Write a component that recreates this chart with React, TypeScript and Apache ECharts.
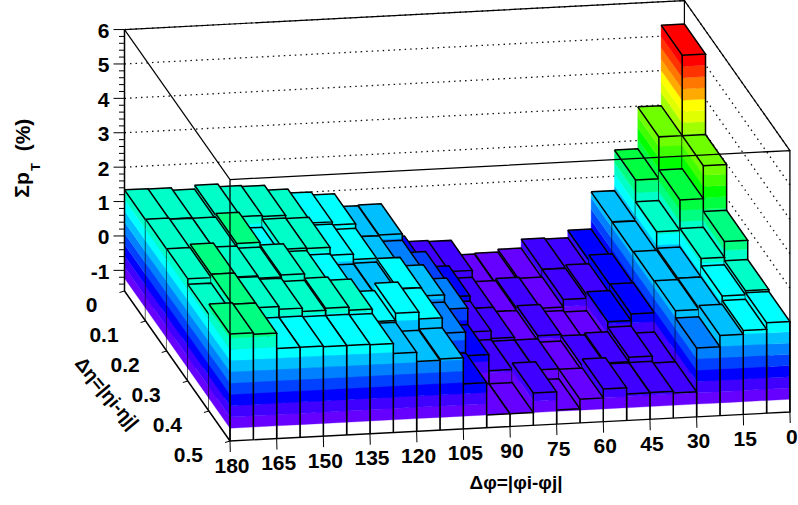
import React, { useEffect, useRef } from "react";
import * as echarts from "echarts";

// Cell values: rows run from eta 0-0.1 (back) to 0.4-0.5 (front), columns from phi 180 down to 0 in 7.5 degree bins.
const row0 = [1.34, 1.33, 1.26, 1.37, 1.29, 1.26, 1.12, 1.0, 0.91, 0.53, 0.55, -0.42, -0.59, -0.62, -1.05, -1.03, -0.95, -0.69, -0.72, -0.5, 0.58, 1.76, 2.98, 5.32];
const row1 = [1.36, 1.32, 1.32, 1.42, 0.95, 1.18, 1.17, 0.94, 0.78, 0.53, 0.36, 0.0, -0.45, -0.82, -0.95, -0.89, -0.92, -0.7, -0.6, -0.35, 0.57, 1.13, 2.02, 2.98];
const row2 = [1.37, 1.47, 1.35, 1.28, 1.34, 1.11, 0.98, 0.65, 0.67, 0.77, 0.52, 0.1, -0.6, -0.82, -0.95, -0.81, -1.02, -1.06, -0.51, -0.32, 0.59, 0.65, 1.19, 1.65];
const row3 = [1.21, 1.47, 1.33, 1.25, 1.15, 1.21, 1.12, 0.75, 0.96, 0.76, 0.31, -0.38, -0.85, -0.9, -0.9, -1.0, -0.85, -0.8, -0.67, -0.88, 0.61, 0.65, 0.97, 1.09];
const row4 = [1.51, 1.47, 1.02, 1.02, 1.0, 1.0, 0.99, 0.7, 0.43, 0.47, -0.29, -1.23, -1.23, -0.66, -1.19, -0.91, -0.65, -0.83, -0.82, -0.87, 0.4, 0.73, 0.84, 1.03];
const rows = [row0, row1, row2, row3, row4];

const zTicks = [-1, 0, 1, 2, 3, 4, 5, 6];
const phiLabels = ["180", "165", "150", "135", "120", "105", "90", "75", "60", "45", "30", "15", "0"];
const etaLabels = ["0", "0.1", "0.2", "0.3", "0.4", "0.5"];
const palette = ["#6600ff", "#4000ff", "#0000ff", "#0040ff", "#0080ff", "#00bfff", "#00ffff", "#00ffc8", "#00ff80", "#00ff40", "#00ff00", "#40ff00", "#70ff00", "#a0ff00", "#e0ff00", "#ffff00", "#ffaa00", "#ff7700", "#ff3300", "#ff0000"];

const Z_FLOOR = -1.6;
const Z_TOP = 6;
const Z_MIN = -1.23;
const Z_MAX = 5.32;
const BAND = (Z_MAX - Z_MIN) / palette.length;
const NC = 24;
const NR = 5;

// oblique projection expressed in axis units
const PX_C = 23.33, PX_R = 21.1, PY_R = 30, PY_C = 1.208, PY_Z = 34.4, X0 = 124.5, Y0 = 291;
const KX = PX_R / PX_C;
const KC = PY_C / PY_Z;
const KR = PY_R / PY_Z;
const project = (api: any) => (c: number, r: number, z: number) =>
  api.coord([c + KX * r, z + KC * c - KR * r]);

const FAMILY = '"Liberation Sans", Arial, sans-serif';
const FONT = `bold 21px ${FAMILY}`;

const poly = (points: number[][], fill: string, z2 = 0) => ({
  type: "polygon", silent: true, z2, shape: { points }, style: { fill, stroke: fill, lineWidth: 0.3 },
});
const line = (points: number[][], w = 1.5, dash?: number[], color = "#000") => ({
  type: "polyline", silent: true, shape: { points },
  style: { fill: "none", stroke: color, lineWidth: w, lineDash: dash },
});
const label = (text: string, x: number, y: number, align: string, font = FONT, rotation = 0) => ({
  type: "text", silent: true, x, y, rotation,
  style: { text, font, fill: "#000", align, verticalAlign: "middle", textAlign: align, textVerticalAlign: "middle" },
});

function renderBar(_: any, api: any) {
  const P = project(api);
  const c = api.value(0), r = api.value(1), v = api.value(2);
  const kids: any[] = [];
  const top = Math.max(v, Z_MIN);
  const face = (lo: number, hi: number, fill: string) => {
    kids.push(poly([P(c, r + 1, lo), P(c + 1, r + 1, lo), P(c + 1, r + 1, hi), P(c, r + 1, hi)], fill));
    kids.push(poly([P(c, r, lo), P(c, r + 1, lo), P(c, r + 1, hi), P(c, r, hi)], fill));
  };
  face(Z_FLOOR, Z_MIN, "#fff");
  for (let b = 0; b < palette.length; b++) {
    const lo = Z_MIN + b * BAND;
    if (lo >= top) break;
    face(lo, Math.min(lo + BAND, top), palette[b]);
  }
  const idx = Math.min(palette.length - 1, Math.max(0, Math.floor((top - Z_MIN) / BAND)));
  kids.push(poly([P(c, r, top), P(c + 1, r, top), P(c + 1, r + 1, top), P(c, r + 1, top)], palette[idx]));
  kids.push(line([P(c, r, top), P(c + 1, r, top), P(c + 1, r + 1, top), P(c, r + 1, top), P(c, r, top)]));
  kids.push(line([P(c, r + 1, top), P(c, r + 1, Z_FLOOR)]));
  kids.push(line([P(c + 1, r + 1, top), P(c + 1, r + 1, Z_FLOOR)]));
  return { type: "group", children: kids };
}

function renderWalls(_: any, api: any) {
  const P = project(api);
  const kids: any[] = [];
  for (const z of zTicks) {
    if (z < 1) continue;
    kids.push(line([P(0, 0, z), P(NC, 0, z), P(NC, NR, z)], 1.3, [1.5, 4], "#111"));
  }
  kids.push(line([P(0, 0, Z_TOP), P(NC, 0, Z_TOP), P(NC, 0, Z_FLOOR)], 1.2));
  kids.push(line([P(NC, 0, Z_TOP), P(NC, NR, Z_TOP)], 1.2));
  kids.push(line([P(0, 0, Z_TOP), P(0, NR, Z_TOP)], 1.2));
  return { type: "group", children: kids };
}

function renderFrame(_: any, api: any) {
  const P = project(api);
  const kids: any[] = [];
  kids.push(line([P(0, NR, Z_TOP), P(NC, NR, Z_TOP), P(NC, NR, Z_FLOOR), P(0, NR, Z_FLOOR), P(0, NR, Z_TOP)], 1.3));
  kids.push(line([P(0, 0, Z_TOP), P(0, 0, Z_FLOOR), P(0, NR, Z_FLOOR)], 1.5));
  for (let i = 0; i <= 38; i++) {
    const z = Z_TOP - i * 0.2;
    if (z < Z_FLOOR) break;
    const p = P(0, 0, z);
    const major = i % 5 === 0;
    kids.push(line([p, [p[0] - (major ? 11 : 5.5), p[1]]], 1));
  }
  for (const z of zTicks) {
    const p = P(0, 0, z);
    kids.push(label(String(z), p[0] - 15, p[1] + 1, "right"));
  }
  phiLabels.forEach((t, i) => {
    const p = P(i * 2, NR, Z_FLOOR);
    kids.push(line([p, [p[0] + 0.3, p[1] + 11]], 1));
    kids.push(label(t, p[0] + 2, p[1] + 24, "center"));
  });
  etaLabels.forEach((t, i) => {
    const p = P(0, i, Z_FLOOR);
    kids.push(line([p, [p[0] - 5, p[1] + 1.5]], 1));
    kids.push(label(t, p[0] - 27, p[1] + 13.5, "right"));
  });
  kids.push(label("Δφ=|φi-φj|", 516, 482, "center", `bold 19px ${FAMILY}`));
  kids.push(label("Δη=|ηi-ηj|", 107, 393, "center", `bold 19px ${FAMILY}`, (-50 * Math.PI) / 180));
  kids.push(label("Σp", 21, 185, "center", `bold 21px ${FAMILY}`, Math.PI / 2));
  kids.push(label("T", 35, 167, "center", `bold 13px ${FAMILY}`, Math.PI / 2));
  kids.push(label("(%)", 22, 135, "center", `bold 21px ${FAMILY}`, Math.PI / 2));
  return { type: "group", children: kids };
}

export default function App() {
  const ref = useRef<HTMLDivElement>(null);
  useEffect(() => {
    const chart = echarts.init(ref.current!, undefined, { renderer: "svg" });
    const cells: number[][] = [];
    for (let r = 0; r < NR; r++) {
      for (let c = NC - 1; c >= 0; c--) cells.push([c, r, rows[r][c]]);
    }
    chart.setOption({
      animation: false,
      backgroundColor: "#fff",
      grid: { left: 0, right: 0, top: 0, bottom: 0 },
      xAxis: { type: "value", show: false, min: -X0 / PX_C, max: (798 - X0) / PX_C },
      yAxis: { type: "value", show: false, min: Z_FLOOR - (505 - Y0) / PY_Z, max: Z_FLOOR + Y0 / PY_Z },
      series: [
        { type: "custom", coordinateSystem: "cartesian2d", clip: false, z: 1, silent: true, renderItem: renderWalls, data: [[0, 0, 0]] },
        { type: "custom", coordinateSystem: "cartesian2d", clip: false, z: 2, silent: true, renderItem: renderBar, data: cells },
        { type: "custom", coordinateSystem: "cartesian2d", clip: false, z: 3, silent: true, renderItem: renderFrame, data: [[0, 0, 0]] },
      ],
    });
    return () => chart.dispose();
  }, []);
  return <div ref={ref} style={{ position: "fixed", left: 0, top: 0, width: 798, height: 505 }} />;
}
